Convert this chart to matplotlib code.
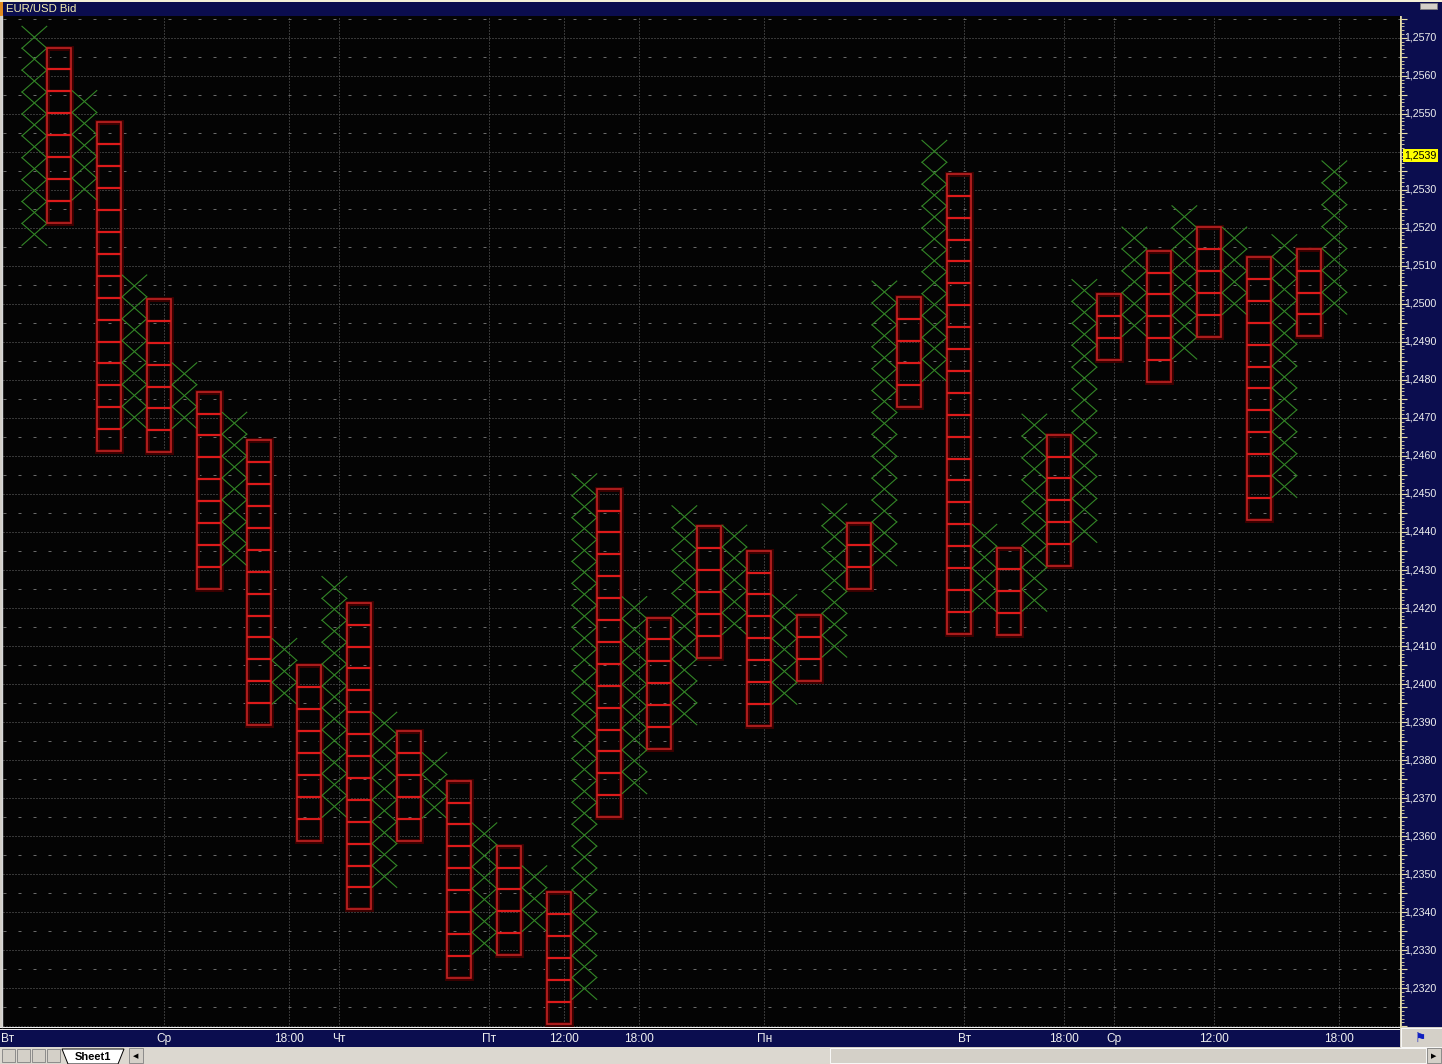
import matplotlib
matplotlib.use("Agg")
import matplotlib.pyplot as plt
from matplotlib.patches import Rectangle

# EUR/USD point & figure chart, box height in price units
BOX = 0.000576

# X columns (left to right): top price and number of boxes
x_tops = [1.25730, 1.25561, 1.25076, 1.24845, 1.24715, 1.24120, 1.24283, 1.23926, 1.23820,
          1.23635, 1.23522, 1.24553, 1.24230, 1.24469, 1.24418, 1.24235, 1.24474, 1.25060,
          1.25430, 1.24420, 1.24710, 1.25064, 1.25202, 1.25258, 1.25202, 1.25182, 1.25376]
x_boxes = [10, 5, 7, 3, 7, 3, 11, 8, 3, 6, 3, 24, 9, 10, 5, 5, 7, 13, 11, 4, 9, 12, 5, 7, 4, 12, 7]

# O columns (left to right): top price and number of boxes
o_tops = [1.25674, 1.25477, 1.25013, 1.24769, 1.24641, 1.24049, 1.24214, 1.23876, 1.23746,
          1.23575, 1.23452, 1.24514, 1.24175, 1.24415, 1.24351, 1.24181, 1.24423, 1.25018,
          1.25342, 1.24359, 1.24656, 1.25025, 1.25140, 1.25202, 1.25123, 1.25145]
o_boxes = [8, 15, 7, 9, 13, 8, 14, 5, 9, 5, 6, 15, 6, 6, 8, 3, 3, 5, 21, 4, 6, 3, 6, 5, 12, 4]

# time markers on the bottom axis (column index where they fall)
time_cols = [5, 10, 12, 18, 21, 24, 29, 37, 41, 43, 47, 52]
time_labels = ['Ср', '18:00', 'Чт', 'Пт', '12:00', '18:00', 'Пн', 'Вт', '18:00', 'Ср', '12:00', '18:00']
first_label = 'Вт'

# price axis
price_ticks = [1.2570 - 0.001 * k for k in range(26)]
last_price = 1.2539

W, H = 1442, 1064
NAVY = '#0b0d4f'
GRID = '#6a6a6a'
GREEN = '#338627'
RED = '#dc1a1a'
FONT = 'Liberation Sans'


def rect(x, y, w, h):
    # pixel box -> figure coords
    return [x / W, 1 - (y + h) / H, w / W, h / H]


fig = plt.figure(figsize=(W / 100, H / 100), dpi=100, facecolor='#d4d0c8')

# main chart area
ylo, yhi = 1.230981, 1.257571
xlo, xhi = -0.76, 55.12
ax = fig.add_axes(rect(3, 16, 1397, 1011))
ax.set_facecolor('#040404')
ax.set_xlim(xlo, xhi)
ax.set_ylim(ylo, yhi)
ax.set_xticks([])
ax.set_yticks([])
for s in ax.spines.values():
    s.set_visible(False)

# horizontal grid: dotted on full levels, sparse dashes on half levels
for k in range(1231, 1258):
    ax.axhline(k / 1000, color=GRID, lw=0.72, ls=(0, (1, 2)), zorder=1)
    ax.axhline(k / 1000 + 0.0005, color=GRID, lw=0.72, ls=(0, (3, 12)), zorder=1)
for c in time_cols:
    ax.axvline(c + 0.69, color=GRID, lw=0.72, ls=(0, (1, 2)), zorder=1)

# X columns
for i, (top, n) in enumerate(zip(x_tops, x_boxes)):
    c = 2 * i
    for b in range(n):
        t = top - b * BOX
        bt = t - BOX
        ax.plot([c, c + 0.99], [t, bt], color=GREEN, lw=0.8, zorder=3)
        ax.plot([c, c + 0.99], [bt, t], color=GREEN, lw=0.8, zorder=3)

# O columns
for i, (top, n) in enumerate(zip(o_tops, o_boxes)):
    c = 2 * i + 1
    bottom = top - n * BOX
    ax.add_patch(Rectangle((c, bottom), 0.95, n * BOX, fill=False, edgecolor='#3e0000',
                           lw=3.5, zorder=2))
    ax.add_patch(Rectangle((c, bottom), 0.95, n * BOX, fill=False, edgecolor='#c02222',
                           lw=1.2, zorder=4))
    for b in range(1, n):
        y = top - b * BOX
        ax.plot([c, c + 0.95], [y, y], color=RED, lw=1.6, zorder=4, solid_capstyle='butt')

# left border
fig.add_artist(plt.Line2D([2 / W, 2 / W], [1 - 1027 / H, 1 - 16 / H], color='#d8d8d8', lw=1))

# right price panel
axr = fig.add_axes(rect(1401, 16, 41, 1011))
axr.set_facecolor(NAVY)
axr.set_ylim(ylo, yhi)
axr.set_xlim(0, 1)
axr.set_xticks([])
for s in ['top', 'right', 'bottom']:
    axr.spines[s].set_visible(False)
axr.spines['left'].set_color('#e8dfa8')
axr.spines['left'].set_linewidth(1.2)
axr.set_yticks([k / 1000 + 0.0005 * j for k in range(1231, 1258) for j in (0, 1)])
axr.set_yticks([k / 10000 for k in range(12310, 12576)], minor=True)
axr.tick_params(axis='y', which='major', direction='in', length=4, color='#e8dfa8', labelleft=False)
axr.tick_params(axis='y', which='minor', direction='in', length=2, color='#e8dfa8', labelleft=False)
for p in price_ticks:
    if abs(p - last_price) < 0.0005:
        continue
    axr.text(0.09, p, f'{p:.4f}'.replace('.', ','), color='#f0f0f0', fontsize=7.7,
             family=FONT, va='center', ha='left')
axr.text(0.08, last_price, f'{last_price:.4f}'.replace('.', ','), color='black', fontsize=7.7,
         family=FONT, va='center', ha='left',
         bbox=dict(boxstyle='square,pad=0.12', facecolor='#ffff00', edgecolor='none'))

# top title bar
fig.add_artist(Rectangle((0, 1 - 16 / H), 1, 16 / H, transform=fig.transFigure,
                         facecolor=NAVY, edgecolor='none'))
fig.add_artist(Rectangle((0, 1 - 2 / H), 1, 2 / H, transform=fig.transFigure,
                         facecolor='#f4f0d8', edgecolor='none'))
fig.add_artist(Rectangle((0, 1 - 16 / H), 3 / W, 14 / H, transform=fig.transFigure,
                         facecolor='#e08a20', edgecolor='none'))
fig.text(6 / W, 1 - 8.5 / H, 'EUR/USD Bid', color='#f4eeb0', fontsize=8.2,
         family=FONT, va='center', ha='left')
fig.add_artist(Rectangle((1420 / W, 1 - 9 / H), 17 / W, 6 / H, transform=fig.transFigure,
                         facecolor='#d4d0c8', edgecolor='#808080', lw=0.6))

# bottom time axis strip
axb = fig.add_axes(rect(0, 1030, 1400, 17))
axb.set_facecolor(NAVY)
axb.set_xlim(xlo - 3 / 25, xhi)
axb.set_ylim(0, 1)
axb.axis('off')
axb.add_patch(Rectangle((xlo - 3 / 25, 0), xhi - xlo + 3 / 25, 1, facecolor=NAVY, edgecolor='none'))
for c, lab in zip(time_cols, time_labels):
    axb.text(c + 0.69, 0.45, lab, color='#f0f0f0', fontsize=8.6, family=FONT,
             ha='center', va='center')
axb.text(xlo - 0.08, 0.45, first_label, color='#f0f0f0', fontsize=8.6, family=FONT,
         ha='left', va='center')
fig.add_artist(Rectangle((0, 1 - 1030 / H), 1400 / W, 3 / H, transform=fig.transFigure,
                         facecolor='#f0f0f0', edgecolor='none'))
fig.add_artist(Rectangle((0, 1 - 1028.5 / H), 1400 / W, 1 / H, transform=fig.transFigure,
                         facecolor='#040404', edgecolor='none'))

# corner icon box
fig.add_artist(Rectangle((1401 / W, 1 - 1047 / H), 41 / W, 19 / H, transform=fig.transFigure,
                         facecolor='#d4d0c8', edgecolor='#ffffff', lw=0.6))
fig.text(1421 / W, 1 - 1038 / H, '⚑', color='#1020c0', fontsize=9, ha='center', va='center',
         family='DejaVu Sans')

# sheet tab strip
fig.add_artist(Rectangle((0, 0), 830 / W, 17 / H, transform=fig.transFigure,
                         facecolor='#dcd8d0', edgecolor='none'))
for bx in [2, 17, 32, 47]:
    fig.add_artist(Rectangle((bx / W, 2 / H), 13 / W, 13 / H, transform=fig.transFigure,
                             facecolor='#d4d0c8', edgecolor='#808080', lw=0.6))
fig.add_artist(plt.Polygon([(62 / W, 15 / H), (68 / W, 0), (118 / W, 0), (124 / W, 15 / H)],
                           closed=True, transform=fig.transFigure, facecolor='white',
                           edgecolor='black', lw=0.7))
fig.text(93 / W, 7 / H, 'Sheet1', color='black', fontsize=8, weight='bold',
         family=FONT, ha='center', va='center')
fig.add_artist(Rectangle((129 / W, 1 / H), 14 / W, 15 / H, transform=fig.transFigure,
                         facecolor='#d4d0c8', edgecolor='#808080', lw=0.6))
fig.text(136 / W, 8 / H, '◀', color='black', fontsize=5, ha='center', va='center',
         family='DejaVu Sans')
fig.add_artist(Rectangle((830 / W, 1 / H), 596 / W, 15 / H, transform=fig.transFigure,
                         facecolor='#d4d0c8', edgecolor='#ffffff', lw=0.6))
fig.add_artist(Rectangle((1427 / W, 1 / H), 14 / W, 15 / H, transform=fig.transFigure,
                         facecolor='#d4d0c8', edgecolor='#808080', lw=0.6))
fig.text(1434 / W, 8 / H, '▶', color='black', fontsize=5, ha='center', va='center',
         family='DejaVu Sans')

fig.savefig('out.png', dpi=100, facecolor=fig.get_facecolor())
